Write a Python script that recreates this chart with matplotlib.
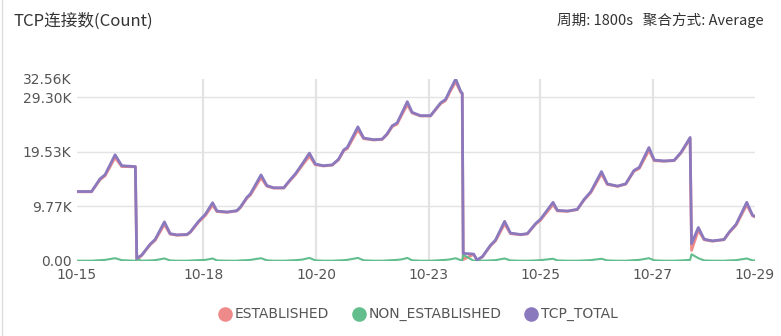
import matplotlib
matplotlib.use("Agg")
import matplotlib.pyplot as plt
from matplotlib.ticker import FixedLocator, FixedFormatter
import numpy as np

plt.rcParams['font.family'] = ['DejaVu Sans', 'Noto Sans CJK SC']

# time in days since the start of the window (30 min samples, key points)
days = [0.0, 0.30, 0.476, 0.58, 0.786, 0.924, 1.18, 1.205, 1.234, 1.338,
        1.51, 1.613, 1.805, 1.923, 2.06, 2.27, 2.34, 2.51, 2.65, 2.80,
        2.89, 3.10, 3.30, 3.37, 3.51, 3.58, 3.80, 3.92, 4.06, 4.27,
        4.40, 4.51, 4.65, 4.80, 4.92, 5.09, 5.27, 5.40, 5.51, 5.58,
        5.80, 5.92, 6.13, 6.30, 6.40, 6.51, 6.61, 6.71, 6.82, 6.92,
        7.09, 7.30, 7.40, 7.51, 7.61, 7.71, 7.82, 7.92, 7.955, 7.975,
        8.19, 8.26, 8.37, 8.54, 8.64, 8.83, 8.95, 9.16, 9.30, 9.47,
        9.57, 9.83, 9.92, 10.13, 10.33, 10.47, 10.61, 10.83, 10.95, 11.16,
        11.33, 11.50, 11.61, 11.81, 11.92, 12.12, 12.33, 12.47, 12.57, 12.66,
        12.69, 12.83, 12.95, 13.12, 13.36, 13.47, 13.61, 13.83, 13.95, 14.0]

# connection counts in thousands
tcp_total = [12.43, 12.43, 14.7, 15.45, 19.0, 17.05, 16.9, 16.9, 0.48, 1.07,
             3.0, 3.85, 7.0, 4.9, 4.67, 4.74, 5.2, 7.1, 8.35, 10.43,
             8.94, 8.76, 9.0, 9.6, 11.4, 12.0, 15.4, 13.5, 13.1, 13.1,
             14.5, 15.6, 17.35, 19.3, 17.35, 17.05, 17.2, 18.2, 19.9, 20.3,
             24.0, 22.0, 21.7, 21.8, 22.7, 24.2, 24.7, 26.5, 28.5, 26.6,
             26.0, 26.0, 27.1, 28.3, 28.9, 30.7, 32.56, 30.4, 30.0, 1.37,
             1.24, 0.18, 0.77, 2.84, 3.73, 7.1, 5.0, 4.74, 4.9, 6.7,
             7.46, 10.5, 9.06, 8.94, 9.24, 11.0, 12.4, 16.0, 13.8, 13.4,
             13.8, 16.2, 16.75, 20.3, 18.06, 17.9, 18.0, 19.4, 20.8, 22.1,
             3.1, 6.0, 3.9, 3.6, 3.85, 5.2, 6.57, 10.5, 8.17, 8.0]

non_established = [0.05, 0.05, 0.15, 0.2, 0.5, 0.15, 0.05, 0.05, 0.3, 0.05,
                   0.1, 0.15, 0.45, 0.1, 0.05, 0.05, 0.08, 0.15, 0.2, 0.45,
                   0.1, 0.05, 0.05, 0.1, 0.15, 0.2, 0.5, 0.12, 0.05, 0.05,
                   0.1, 0.15, 0.25, 0.55, 0.12, 0.05, 0.05, 0.1, 0.15, 0.2,
                   0.55, 0.12, 0.05, 0.05, 0.1, 0.15, 0.2, 0.3, 0.55, 0.12,
                   0.05, 0.05, 0.1, 0.15, 0.2, 0.3, 0.5, 0.15, 0.1, 1.1,
                   0.05, 0.05, 0.05, 0.1, 0.15, 0.45, 0.1, 0.05, 0.05, 0.1,
                   0.15, 0.4, 0.1, 0.05, 0.05, 0.1, 0.15, 0.4, 0.1, 0.05,
                   0.05, 0.15, 0.2, 0.5, 0.12, 0.05, 0.05, 0.1, 0.15, 0.2,
                   1.2, 0.5, 0.1, 0.05, 0.05, 0.1, 0.15, 0.45, 0.1, 0.1]

tick_days = [0, 2.605, 4.94, 7.26, 9.57, 11.89, 14.0]
tick_labels = ["10-15", "10-18", "10-20", "10-23", "10-25", "10-27", "10-29"]
y_ticks = [0, 9767, 19533, 29300, 32560]
y_labels = ["0.00", "9.77K", "19.53K", "29.30K", "32.56K"]

series_names = ["ESTABLISHED", "NON_ESTABLISHED", "TCP_TOTAL"]
colors = ["#ef8a8a", "#62be8c", "#8b79be"]

x = np.array(days)
total = np.array(tcp_total) * 1000
non_est = np.array(non_established) * 1000
established = total - non_est

W, H = 781, 336
fig = plt.figure(figsize=(W / 100, H / 100), dpi=100)
ax = fig.add_axes([77 / W, 1 - 261 / H, (755 - 77) / W, (261 - 79) / H])

grid_c = "#e3e3e3"
for yv in y_ticks[1:4]:
    ax.axhline(yv, color=grid_c, lw=1, zorder=0)
for xv in tick_days[1:-1]:
    ax.axvline(xv, color=grid_c, lw=1.6, zorder=0)

ax.plot(x, established, color=colors[0], lw=2.0, zorder=2, solid_joinstyle="round")
ax.plot(x, non_est, color=colors[1], lw=1.5, zorder=3, solid_joinstyle="round")
ax.plot(x, total, color=colors[2], lw=2.0, zorder=4, solid_joinstyle="round")

ax.set_xlim(0, 14)
ax.set_ylim(0, 32560)
ax.xaxis.set_major_locator(FixedLocator(tick_days))
ax.xaxis.set_major_formatter(FixedFormatter(tick_labels))
ax.yaxis.set_major_locator(FixedLocator(y_ticks))
ax.yaxis.set_major_formatter(FixedFormatter(y_labels))
ax.tick_params(axis="both", length=0, labelsize=10, labelcolor="#555555")
ax.tick_params(axis="x", pad=5)
ax.tick_params(axis="y", pad=4)
for s in ax.spines.values():
    s.set_visible(False)

# header, legend and panel border in pixel coordinates
ov = fig.add_axes([0, 0, 1, 1], zorder=-1)
ov.set_xlim(0, W)
ov.set_ylim(H, 0)
ov.axis("off")
ov.plot([2, 2], [0, H], color="#dddddd", lw=1)

ov.text(14, 21, "TCP连接数(Count)", fontsize=12, color="#333333",
        family=["Noto Sans CJK SC", "DejaVu Sans"], va="center", ha="left")
ov.text(764, 20, "周期: 1800s   聚合方式: Average", fontsize=10.5, color="#333333",
        family=["Noto Sans CJK SC", "DejaVu Sans"], va="center", ha="right")

legend_x = [225, 359, 531]
for lx, name, c in zip(legend_x, series_names, colors):
    ov.scatter([lx], [314], s=90, color=c, zorder=5)
    ov.text(lx + 10, 314, name, fontsize=10, color="#555555", va="center", ha="left")

fig.savefig("out.png", dpi=100)
